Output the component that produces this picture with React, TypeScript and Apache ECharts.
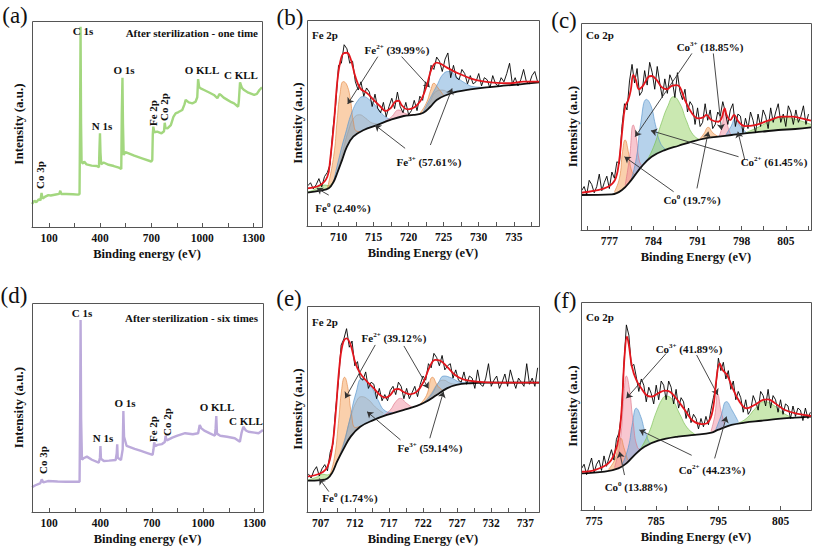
import React, { useEffect, useRef } from "react";
import * as echarts from "echarts";

const SERIF = "Liberation Serif";

// ---------------- Survey spectra (a) and (d) ----------------
const surveyOneTime: number[][] = [
  [0, 11.2], [15, 12.8], [25, 12.0], [40, 13.5], [50, 13.0], [56, 16.5], [62, 13.8], [75, 14.6], [96, 15.5],
  [110, 15.3], [140, 15.8], [160, 16.1], [166, 17.6], [172, 16.0], [200, 16.0], [240, 15.9], [270, 15.7],
  [279, 16.0], [282, 50], [285, 97.2], [288, 50], [291, 31.5], [300, 30.8], [306, 31.8], [320, 30.4],
  [350, 29.8], [380, 29.6], [393, 29.0], [396, 38], [399, 45.5], [402, 36], [406, 30.5], [420, 31.3],
  [450, 30.2], [480, 29.6], [510, 28.8], [524, 28.2], [527, 55], [531, 72.5], [534, 50], [538, 35],
  [548, 36.4], [560, 36], [600, 34.6], [650, 33.2], [700, 31.8], [706, 32.5], [709, 45], [712, 48.7],
  [718, 46], [735, 46.3], [760, 45.5], [775, 46.5], [779, 50.6], [784, 48], [795, 47.9], [815, 49.5],
  [830, 53.5], [843, 55.2], [860, 55.8], [882, 56.8], [895, 59.5], [902, 61.7], [920, 60.5], [941, 60.0],
  [960, 60.8], [970, 63], [975, 71.8], [981, 68], [990, 67.3], [1010, 66.5], [1040, 65.3], [1068, 64.1],
  [1088, 62.5], [1100, 64.5], [1108, 64.1], [1125, 62.8], [1147, 61.7], [1170, 60.6], [1186, 60],
  [1210, 58.4], [1214, 61], [1221, 70.2], [1232, 67.5], [1245, 66.5], [1270, 65.2], [1304, 64.1],
  [1320, 64.6], [1335, 66.5], [1350, 67.8],
];
const surveySixTimes: number[][] = [
  [0, 11.8], [20, 12.8], [40, 13.5], [48, 13.7], [57, 15.6], [66, 14.2], [93, 14.8], [150, 14.6], [200, 14.5],
  [278, 14.5], [281, 45], [284, 91.9], [287, 45], [292, 25], [301, 25.7], [321, 26.5], [350, 25], [390, 23.6],
  [397, 26], [400, 31.6], [403, 25.5], [420, 24.4], [450, 24.6], [489, 24.9], [495, 28], [498, 32.4],
  [501, 26], [520, 24.9], [530, 30], [534, 48.3], [538, 36], [553, 31.6], [600, 30.2], [637, 29.2],
  [670, 28.3], [705, 27.3], [710, 30], [714, 33.3], [720, 31.5], [733, 32.1], [760, 32.5], [776, 33.5],
  [781, 36.5], [786, 34.2], [791, 34.4], [820, 35.6], [850, 36.5], [895, 37.7], [940, 37.2], [971, 37.7],
  [980, 41.6], [990, 40], [1010, 38.8], [1040, 37.6], [1069, 36.5], [1073, 40], [1077, 45.9], [1081, 37.5],
  [1100, 36.5], [1140, 36], [1185, 35.3], [1215, 33.6], [1225, 38], [1235, 40.8], [1250, 39], [1265, 38.4],
  [1300, 38], [1324, 37.7], [1340, 38.6], [1350, 39.2],
];
const surveyTicks = [100, 250, 400, 550, 700, 850, 1000, 1150, 1300];
const surveyLabels = [100, 400, 700, 1000, 1300];

// ---------------- tick values for the high-resolution panels ----------------
const fe1Ticks = [707.5, 710, 712.5, 715, 717.5, 720, 722.5, 725, 727.5, 730, 732.5, 735, 737.5];
const fe1Labels = [710, 715, 720, 725, 730, 735];
const co1Ticks = [773.5, 777, 780.5, 784, 787.5, 791, 794.5, 798, 801.5, 805, 808.5];
const co1Labels = [777, 784, 791, 798, 805];
const fe6Ticks = [707, 709.5, 712, 714.5, 717, 719.5, 722, 724.5, 727, 729.5, 732, 734.5, 737];
const fe6Labels = [707, 712, 717, 722, 727, 732, 737];
const co6Ticks = [775, 780, 785, 790, 795, 800, 805];
const co6Labels = [775, 785, 795, 805];

const rawStep = 0.4;

// ---------------- (b) Fe 2p, one time ----------------
const bRawStart = 705.6;
const bRaw = [
  19.5, 21, 18, 20, 23, 19, 24, 26, 30, 47,
  59, 78, 79, 88, 86, 79, 80, 70, 66, 70,
  63, 67, 65, 58, 64, 57, 55, 60, 53, 58,
  62, 57, 65, 58, 55, 60, 54, 56, 61, 56,
  63, 61, 70, 68, 78, 76, 82, 80, 75, 81,
  84, 72, 78, 72, 71, 76, 74, 69, 73, 69,
  70, 74, 68, 72, 71, 67, 73, 69, 68, 72,
  70, 74, 79, 69, 72, 68, 71, 76, 70, 69,
  73, 75, 70,
];
const bBackground = [
  [705.5, 16.2], [707.4, 17.2], [708.6, 18.3], [709.3, 21.5], [709.8, 25.6], [710.5, 32.0], [711.2, 38.5],
  [712.1, 43.4], [713.6, 46.6], [715.5, 49.0], [717.4, 51.5], [719.3, 53.4], [720.7, 53.9], [722.1, 55.0],
  [723.1, 57.9], [724.0, 61.2], [725.4, 63.6], [726.9, 65.2], [728.8, 66.3], [731.1, 67.3], [733.5, 68.1],
  [735.9, 68.8], [738.6, 69.7],
];
const bEnvelope = [
  [705.5, 18.3], [707.4, 19.9], [708.4, 23.9], [708.8, 32], [709.3, 48.2], [709.8, 69.3], [710.2, 79],
  [710.7, 83.8], [711.2, 84.1], [711.7, 81.4], [712.4, 72.5], [713.1, 66.8], [714.1, 64.4], [715, 61.2],
  [716, 57.9], [716.7, 55.8], [717.4, 57.1], [718.1, 60.4], [718.6, 60.8], [719, 58.7], [719.8, 56.6],
  [720.5, 57.1], [721.2, 58.7], [721.9, 62], [722.6, 68.4], [723.3, 76.5], [724, 79.3], [724.7, 78.5],
  [725.4, 77], [726.4, 75.2], [727.3, 73.8], [728.8, 71.7], [730.2, 70.4], [732.1, 69.6], [734.5, 69.3],
  [736.4, 70.1], [738.6, 70.1],
];
const bFe0 = [[705.5, 16.4], [706.5, 17.6], [707.3, 19.3], [708, 19.9], [708.6, 19.6], [709.2, 21.3]];
const bFe2Main = [[708.4, 18.2], [709.3, 33.7], [709.8, 51.5], [710.2, 64], [710.7, 70.1], [711.2, 68.4], [711.7, 61.2], [712.1, 51], [712.6, 46], [713.2, 45.8]];
const bFe3Main = [[709.3, 21.5], [710, 32], [711, 45], [712, 56], [713, 62], [713.5, 62.8], [714.5, 61], [715.5, 57.5], [716.5, 53.5], [717.5, 51.6]];
const bGrayMain = [[709.8, 25.6], [710.6, 36], [711.4, 46], [712.2, 52.5], [713, 54], [713.8, 52.5], [714.8, 50], [715.8, 49.5]];
const bSat = [[716.5, 50.6], [717.5, 52.8], [718.6, 56.3], [719.6, 54.5], [720.6, 53.9]];
const bFe2Minor = [[721.6, 54.7], [722.5, 59.5], [723.2, 66.5], [723.6, 69.3], [724.2, 67], [725, 63.3]];
const bGrayMinor = [[722.2, 55.2], [723, 60], [724, 65.5], [724.8, 66], [725.8, 65], [727, 65.3]];
const bFe3Minor = [[722, 55], [723, 61.5], [724, 68], [725, 74], [725.8, 75], [726.8, 72.5], [728, 69.5], [729.5, 67.5], [731, 67.3]];
const bArrows = [
  [[715.6, 82.2], [711.3, 59.2]], [[719.0, 82.2], [723.0, 67.3]],
  [[719.5, 37.7], [715.2, 49]], [[723.1, 39.3], [726.2, 66.8]],
  [[708.6, 15], [706.9, 18.3]],
];

// ---------------- (c) Co 2p, one time ----------------
const cRawStart = 772.6;
const cRaw = [
  19, 21, 17, 24, 22, 18, 21, 27, 19, 23,
  26, 20, 28, 25, 33, 32, 50, 61, 58, 72,
  80, 71, 78, 65, 67, 77, 70, 81, 76, 68,
  79, 71, 64, 73, 66, 75, 72, 64, 76, 67,
  63, 68, 57, 62, 60, 51, 59, 50, 52, 61,
  53, 58, 49, 51, 57, 55, 62, 57, 51, 58,
  61, 50, 56, 55, 47, 54, 49, 57, 53, 47,
  56, 50, 58, 55, 49, 59, 52, 57, 61, 52,
  56, 50, 60, 57, 51, 58, 52, 55, 60, 51,
  56,
];
const cBackground = [
  [772.5, 16.9], [777.4, 17.2], [779, 19.3], [780.5, 24.2], [782.1, 30.6], [783.7, 35.4], [785.8, 38.6],
  [788, 40.7], [790.1, 42.7], [792.2, 44.3], [794.3, 45.1], [796.4, 45.9], [798.5, 46.7], [801.2, 47.5],
  [803.8, 48.3], [806.5, 48.8], [809, 49.6],
];
const cEnvelope = [
  [772.5, 18], [774.7, 19], [776.8, 20.9], [777.9, 24.2], [778.5, 32.2], [779, 46.7], [779.5, 59.6], [780, 62.8],
  [780.4, 67.6], [780.8, 74.9], [781.2, 72.5], [781.7, 68], [782.4, 70], [783.2, 74], [783.7, 74.4], [784.5, 72.5],
  [785.3, 69], [786.1, 68], [786.9, 69.6], [787.7, 70], [788.2, 69], [789, 62.8], [790.1, 56.4], [791.1, 53.9],
  [791.9, 54.4], [792.4, 55.6], [793.2, 53.1], [794.3, 52.3], [794.8, 53.9], [795.3, 58.8], [795.6, 55.6],
  [796.2, 53.1], [796.8, 55.6], [797.5, 52.3], [798.5, 50.2], [800.1, 50.7], [802.2, 52.8], [804.4, 54.8],
  [806, 54.8], [807.5, 53.9], [809, 52.8],
];
const cCo0Main = [[777.8, 18.5], [778.6, 25], [779.1, 38], [779.5, 43.5], [780, 38], [780.6, 28], [781.3, 26.5]];
const cCo3Main = [[779.5, 21.5], [780.2, 35], [780.8, 50.7], [781.3, 44], [781.8, 33], [782.4, 30.5]];
const cCo2Main = [[780.5, 24.5], [781.3, 35], [782, 52], [782.9, 63.1], [783.6, 60], [784.3, 51], [785.1, 42], [786, 38.8]];
const cSatMain = [[782.6, 31.5], [784, 40], [785.3, 52], [786.3, 60], [787.2, 64.4], [788.2, 61], [789.2, 53], [790.3, 46], [791.5, 43.5]];
const cCo0Minor = [[791.3, 43.7], [792, 46.5], [792.7, 49.6], [793.4, 47], [794.2, 45.3]];
const cCo3Minor = [[794.4, 45.2], [794.9, 50], [795.3, 58.8], [795.8, 50], [796.3, 46]];
const cCo2Minor = [[795.5, 46], [796.3, 50], [797, 53.9], [797.8, 50], [798.8, 47]];
const cSatMinor = [[798.5, 46.8], [800.5, 49.5], [802.5, 52.5], [804.5, 54.5], [806.5, 53.5], [809, 51]];
const cArrows = [
  [[790.1, 85.3], [781.1, 45.1]], [[793.5, 85.3], [794.8, 48.3]],
  [[797.5, 35.4], [783.6, 48]], [[798.5, 33.8], [797.4, 47.5]],
  [[787.2, 18.5], [779.4, 35.4]], [[790.9, 20.1], [792.7, 47.5]],
];

// ---------------- (e) Fe 2p, six times ----------------
const eRawStart = 705.2;
const eRaw = [
  18.5, 16.5, 20, 22, 17.5, 21, 23, 20, 29, 33,
  50, 63, 81, 84, 89, 80, 83, 71, 73, 65,
  64, 68, 60, 63, 62, 55, 60, 54, 57, 54,
  59, 61, 57, 63, 61, 55, 60, 55, 58, 61,
  56, 62, 66, 64, 72, 70, 77, 75, 71, 76,
  69, 71, 72, 65, 69, 64, 63, 68, 62, 66,
  65, 60, 69, 62, 61, 65, 72, 61, 64, 66,
  60, 63, 67, 61, 69, 64, 60, 65, 63, 61,
  72, 62, 65, 61, 70,
];
const eBackground = [
  [705, 15.2], [707, 15.5], [708, 16.3], [708.7, 19.1], [709.4, 24.4], [710.4, 30.9], [711.4, 36.6],
  [712.8, 41.4], [714.8, 44.7], [716.7, 47.1], [719.1, 49.5], [721.1, 51.5], [722.5, 53.6], [724, 56.8],
  [725.5, 60], [726.9, 61.7], [728.9, 62.5], [731.3, 62.8], [739, 62.8],
];
const eEnvelope = [
  [705, 17.2], [707, 18.8], [708, 22], [708.7, 31.7], [709.2, 47.9], [709.7, 68.9], [710.2, 81.1], [710.8, 84.3],
  [711.4, 81.1], [712.1, 72.2], [712.8, 67.3], [713.8, 63.3], [714.8, 60], [715.7, 56.8], [716.5, 55.5],
  [717.2, 56.8], [717.9, 59.5], [718.4, 59.7], [719.1, 58.4], [720.1, 57.1], [721.1, 58.4], [722.1, 63.3],
  [723, 70.6], [723.8, 73.8], [724.5, 73.5], [725.5, 70.6], [726.7, 66.5], [727.9, 64.4], [729.8, 63.3],
  [732.8, 62.8], [739, 62.8],
];
const eFe0 = [[705, 15.4], [706.5, 17], [707.3, 18.3], [708, 18], [708.6, 19.2]];
const eFe2Main = [[708.3, 17.5], [709, 26], [709.6, 43], [710.1, 60], [710.5, 65.4], [711, 60], [711.5, 48], [712.1, 41], [712.8, 41.6]];
const eFe3Main = [[709.2, 22.5], [710.2, 31], [711.2, 44], [712.2, 58], [713.1, 64.9], [714.2, 62], [715.3, 55], [716.5, 49], [717.5, 48.2]];
const eGrayMain = [[709.4, 24.4], [710.4, 34], [711.4, 46], [712.3, 54], [713, 56], [714, 54.5], [715, 51], [716.2, 48]];
const eSat = [[716.2, 46.8], [717.2, 49.5], [718, 53.5], [718.7, 55.2], [719.5, 53], [720.5, 50.6]];
const eFe2Minor = [[721.5, 52.2], [722.5, 56.5], [723.4, 65.4], [724.2, 61], [725, 58.8]];
const eGrayMinor = [[722.2, 53.2], [723.2, 57.5], [724.3, 63], [725, 64], [726, 62.5], [727, 61.9]];
const eFe3Minor = [[721.5, 51.8], [723, 56], [724.2, 62.5], [725.1, 66], [726.2, 65], [727.5, 63], [729, 62.6]];
const eArrows = [
  [[715.0, 81.1], [710.6, 55.2]], [[719.2, 80.6], [722.8, 60]],
  [[718.7, 35], [713.8, 48.7]], [[723.0, 35.8], [725.0, 58.4]],
  [[708.2, 9.9], [706.8, 16.3]],
];

// ---------------- (f) Co 2p, six times ----------------
const fRawStart = 773.0;
const fRaw = [
  20, 22, 17, 21, 25, 18, 22, 24, 19, 26,
  21, 25, 29, 24, 34, 37, 46, 70, 89, 84,
  69, 70, 64, 57, 63, 60, 52, 59, 56, 51,
  60, 53, 62, 60, 53, 62, 59, 51, 58, 49,
  54, 52, 44, 49, 42, 46, 44, 39, 44, 40,
  45, 41, 48, 54, 59, 73, 67, 71, 63, 67,
  58, 62, 53, 57, 54, 47, 53, 46, 48, 55,
  52, 48, 57, 55, 50, 58, 49, 55, 53, 47,
  53, 46, 51, 50, 44, 50, 45, 49, 48, 43,
  49, 44, 47,
];
const fBackground = [
  [772.9, 17.6], [776.7, 18.4], [778.9, 20], [780.2, 22.4], [781.5, 26.4], [783.1, 30.4], [785.3, 33.3],
  [788.5, 35.3], [791.2, 36.1], [793.9, 37.2], [794.9, 38.5], [797.1, 40.9], [799.2, 42], [801.9, 42.9],
  [804.6, 43.8], [807.3, 44.4], [809.9, 44.9],
];
const fEnvelope = [
  [772.9, 18.4], [775.1, 19.2], [777.3, 22.4], [778.3, 27.2], [779, 35.3], [779.5, 51.3], [779.9, 73.7],
  [780.3, 83.3], [780.6, 79.3], [781.1, 68.9], [781.8, 62.5], [782.6, 58.5], [783.4, 55.3], [784.2, 54.5],
  [785.3, 56.1], [786.4, 57.4], [787.2, 56.9], [788.2, 53.7], [789.6, 48.1], [790.9, 42.9], [792.3, 41.3],
  [793.3, 42], [794.1, 48.1], [794.7, 63.3], [795.2, 70.5], [795.7, 67.3], [796.4, 64.9], [797.3, 58.5],
  [798.4, 52.1], [799.5, 48.9], [800.8, 50.5], [802.2, 52.9], [803, 53.2], [804, 51.6], [805.7, 48.1],
  [807.8, 46.2], [809.9, 45.2],
];
const fCo0 = [[777.3, 19.5], [778.3, 24], [778.9, 31], [779.3, 34.5], [779.8, 30], [780.4, 24]];
const fCo3Main = [[778.3, 20.5], [779.2, 33], [779.8, 55], [780.2, 64.4], [780.7, 58], [781.3, 42], [782, 30], [782.7, 29]];
const fCo2Main = [[779.5, 21.5], [780.5, 30], [781.2, 42], [781.8, 48.9], [782.5, 45], [783.3, 37], [784.3, 32], [785, 33.2]];
const fSatMain = [[782.5, 29.5], [783.8, 37], [785, 47], [786, 53.5], [786.6, 54.8], [787.6, 53], [788.8, 46], [790, 39.5], [791.2, 36.5]];
const fCo3Minor = [[793.8, 37.8], [794.4, 45], [794.9, 55.8], [795.4, 48], [796, 41]];
const fCo2Minor = [[794.5, 38], [795.4, 45], [796.3, 52.1], [797.2, 48], [798.2, 42.5]];
const fSatMinor = [[798, 41.5], [799.5, 44], [801, 49], [802.4, 52.1], [803.8, 50.5], [805.5, 46.5], [807, 44.3]];
const fArrows = [
  [[786.6, 75.3], [780.2, 53.7]], [[791.5, 74.5], [794.9, 55.3]],
  [[790.7, 26.3], [782.3, 38.5]], [[794.4, 24.8], [796.3, 44.9]],
  [[779.9, 16.8], [779.1, 28]],
];

// ---------------- styling / layout ----------------
const PAL: Record<string, { fill: string; line: string }> = {
  orange: { fill: "rgba(243,150,72,0.45)", line: "rgba(225,130,60,0.75)" },
  blue: { fill: "rgba(110,165,215,0.5)", line: "rgba(90,150,205,0.85)" },
  pink: { fill: "rgba(240,130,150,0.45)", line: "rgba(220,110,130,0.75)" },
  green: { fill: "rgba(150,210,100,0.5)", line: "rgba(120,190,80,0.8)" },
  gray: { fill: "rgba(170,170,170,0.3)", line: "rgba(150,150,150,0.6)" },
};

const GRIDS = [
  { left: 32, top: 21, width: 230, height: 206 },
  { left: 307, top: 20, width: 232, height: 206 },
  { left: 581, top: 23, width: 230, height: 207 },
  { left: 32, top: 303, width: 231, height: 209 },
  { left: 307, top: 306, width: 232, height: 206 },
  { left: 581, top: 302, width: 230, height: 208 },
];

function rawPoints(start: number, values: number[]) {
  return values.map((v, i) => [Math.round((start + i * rawStep) * 100) / 100, v]);
}

function xAxisOpt(gi: number, min: number, max: number, ticks: number[], labels: number[], name: string) {
  return {
    gridIndex: gi, type: "value", min, max, z: 10,
    axisLine: { show: true, onZero: false, lineStyle: { color: "#555", width: 1 } },
    axisTick: { show: true, inside: true, length: 4, customValues: ticks, lineStyle: { color: "#555" } },
    axisLabel: {
      show: true, customValues: labels, margin: 5, color: "#111", fontSize: 11.5, fontWeight: "bold", fontFamily: SERIF,
      formatter: (v: number) => String(v),
    },
    splitLine: { show: false },
    name, nameLocation: "middle", nameGap: 20,
    nameTextStyle: { color: "#111", fontSize: 12.5, fontWeight: "bold", fontFamily: SERIF },
  };
}

function yAxisOpt(gi: number, gap: number) {
  return {
    gridIndex: gi, type: "value", min: 0, max: 100,
    axisLine: { show: false }, axisTick: { show: false }, axisLabel: { show: false }, splitLine: { show: false },
    name: "Intensity (a.u.)", nameLocation: "middle", nameGap: gap,
    nameTextStyle: { color: "#111", fontSize: 13, fontWeight: "bold", fontFamily: SERIF },
  };
}

function hiRes(gi: number, comps: [number[][], string][], bg: number[][], raw: number[][], env: number[][], arrows: number[][][]) {
  const out: any[] = [];
  comps.forEach(([data, kind]) => {
    out.push({
      type: "line", xAxisIndex: gi, yAxisIndex: gi, data, smooth: 0.5, symbol: "none", silent: true, z: 2,
      lineStyle: { color: PAL[kind].line, width: 0.8 },
      areaStyle: { color: PAL[kind].fill, opacity: 1 },
    });
  });
  out.push({
    type: "line", xAxisIndex: gi, yAxisIndex: gi, data: bg, smooth: 0.4, symbol: "none", silent: true, z: 3,
    lineStyle: { color: "#111", width: 1.8 },
    areaStyle: { color: "#ffffff", opacity: 1 },
  });
  out.push({
    type: "line", xAxisIndex: gi, yAxisIndex: gi, data: raw, symbol: "none", silent: true, z: 4,
    lineStyle: { color: "#000", width: 0.9 },
  });
  out.push({
    type: "line", xAxisIndex: gi, yAxisIndex: gi, data: env, smooth: 0.4, symbol: "none", silent: true, z: 5,
    lineStyle: { color: "#e3161d", width: 1.8 },
    markLine: {
      silent: true, symbol: ["none", "arrow"], symbolSize: 6, label: { show: false },
      lineStyle: { color: "#333", width: 0.9, type: "solid" },
      data: arrows.map((a) => [{ coord: a[0] }, { coord: a[1] }]),
    },
  });
  return out;
}

const RICH = {
  b: { fontSize: 11, fontWeight: "bold", fontFamily: SERIF, fill: "#111", color: "#111" },
  s: { fontSize: 7, fontWeight: "bold", fontFamily: SERIF, fill: "#111", color: "#111", padding: [0, 0, 7, 0] },
};

function supText(x: number, y: number, base: string, sup: string, rest: string) {
  return {
    type: "text", x, y, z: 100, silent: true,
    style: {
      text: `{b|${base}}{s|${sup}}{b|${rest}}`, rich: RICH, align: "center", verticalAlign: "middle",
      fontFamily: SERIF, fontWeight: "bold", fontSize: 11, fill: "#111",
    },
  };
}
function plainText(x: number, y: number, text: string, opts: any = {}) {
  return {
    type: "text", x, y, z: 100, silent: true, rotation: opts.rotation || 0,
    style: {
      text, fill: "#111", fontFamily: SERIF, fontWeight: opts.weight || "bold", fontSize: opts.size || 11,
      align: opts.align || "center", verticalAlign: "middle",
    },
  };
}

function buildOption() {
  const V = Math.PI / 2;
  const graphic: any[] = [];
  GRIDS.forEach((g) => {
    graphic.push({
      type: "rect", z: 100, silent: true,
      shape: { x: g.left + 0.5, y: g.top + 0.5, width: g.width, height: g.height },
      style: { fill: "transparent", stroke: "#555", lineWidth: 1 },
    });
  });
  const letters: [number, number, string][] = [[15, 15, "(a)"], [290, 17, "(b)"], [564, 20, "(c)"], [14, 295, "(d)"], [289, 298, "(e)"], [565, 300, "(f)"]];
  letters.forEach(([x, y, t]) => graphic.push(plainText(x, y, t, { size: 23, weight: "normal" })));

  // (a)
  graphic.push(plainText(258, 33, "After sterilization - one time", { align: "right" }));
  graphic.push(plainText(83, 31, "C 1s"));
  graphic.push(plainText(124, 70, "O 1s"));
  graphic.push(plainText(102, 126, "N 1s"));
  graphic.push(plainText(153, 113, "Fe 2p", { rotation: V }));
  graphic.push(plainText(164, 107, "Co 2p", { rotation: V }));
  graphic.push(plainText(202, 70, "O KLL"));
  graphic.push(plainText(241, 75, "C KLL"));
  graphic.push(plainText(40, 175, "Co 3p", { rotation: V }));
  // (d)
  graphic.push(plainText(258, 318, "After sterilization - six times", { align: "right" }));
  graphic.push(plainText(82, 313, "C 1s"));
  graphic.push(plainText(103, 438, "N 1s"));
  graphic.push(plainText(125, 403, "O 1s"));
  graphic.push(plainText(153, 429, "Fe 2p", { rotation: V }));
  graphic.push(plainText(167, 422, "Co 2p", { rotation: V }));
  graphic.push(plainText(217, 407, "O KLL"));
  graphic.push(plainText(246, 421, "C KLL"));
  graphic.push(plainText(43, 460, "Co 3p", { rotation: V }));
  // (b)
  graphic.push(plainText(312, 35, "Fe 2p", { align: "left" }));
  graphic.push(supText(397, 50, "Fe", "2+", " (39.99%)"));
  graphic.push(supText(429, 162, "Fe", "3+", " (57.61%)"));
  graphic.push(supText(343, 208, "Fe", "0", " (2.40%)"));
  // (c)
  graphic.push(plainText(586, 35, "Co 2p", { align: "left" }));
  graphic.push(supText(710, 47, "Co", "3+", " (18.85%)"));
  graphic.push(supText(774, 162, "Co", "2+", " (61.45%)"));
  graphic.push(supText(692, 200, "Co", "0", " (19.7%)"));
  // (e)
  graphic.push(plainText(312, 322, "Fe 2p", { align: "left" }));
  graphic.push(supText(394, 338, "Fe", "2+", " (39.12%)"));
  graphic.push(supText(430, 448, "Fe", "3+", " (59.14%)"));
  graphic.push(supText(350, 498, "Fe", "0", " (1.74%)"));
  // (f)
  graphic.push(plainText(586, 317, "Co 2p", { align: "left" }));
  graphic.push(supText(689, 349, "Co", "3+", " (41.89%)"));
  graphic.push(supText(712, 470, "Co", "2+", " (44.23%)"));
  graphic.push(supText(636, 487, "Co", "0", " (13.88%)"));

  const series: any[] = [
    {
      type: "line", xAxisIndex: 0, yAxisIndex: 0, data: surveyOneTime, symbol: "none", silent: true,
      lineStyle: { color: "#a3d77f", width: 2.4 },
    },
    {
      type: "line", xAxisIndex: 3, yAxisIndex: 3, data: surveySixTimes, symbol: "none", silent: true,
      lineStyle: { color: "#bcaadb", width: 2.4 },
    },
    ...hiRes(1, [
      [bFe0, "green"], [bFe2Main, "orange"], [bFe3Main, "blue"], [bGrayMain, "gray"], [bSat, "pink"],
      [bFe2Minor, "orange"], [bFe3Minor, "blue"], [bGrayMinor, "gray"],
    ], bBackground, rawPoints(bRawStart, bRaw), bEnvelope, bArrows),
    ...hiRes(2, [
      [cCo0Main, "orange"], [cCo3Main, "pink"], [cCo2Main, "blue"], [cSatMain, "green"],
      [cCo0Minor, "orange"], [cCo3Minor, "pink"], [cCo2Minor, "blue"], [cSatMinor, "green"],
    ], cBackground, rawPoints(cRawStart, cRaw), cEnvelope, cArrows),
    ...hiRes(4, [
      [eFe0, "green"], [eFe2Main, "orange"], [eFe3Main, "blue"], [eGrayMain, "gray"], [eSat, "pink"],
      [eFe2Minor, "orange"], [eFe3Minor, "blue"], [eGrayMinor, "gray"],
    ], eBackground, rawPoints(eRawStart, eRaw), eEnvelope, eArrows),
    ...hiRes(5, [
      [fCo0, "orange"], [fCo3Main, "pink"], [fCo2Main, "blue"], [fSatMain, "green"],
      [fCo3Minor, "pink"], [fCo2Minor, "blue"], [fSatMinor, "green"],
    ], fBackground, rawPoints(fRawStart, fRaw), fEnvelope, fArrows),
  ];

  return {
    animation: false,
    backgroundColor: "#ffffff",
    textStyle: { fontFamily: SERIF },
    grid: GRIDS.map((g) => ({ ...g, show: false })),
    xAxis: [
      xAxisOpt(0, 0, 1350, surveyTicks, surveyLabels, "Binding energy (eV)"),
      xAxisOpt(1, 705.5, 738.6, fe1Ticks, fe1Labels, "Binding Energy (eV)"),
      xAxisOpt(2, 772.5, 809, co1Ticks, co1Labels, "Binding Energy (eV)"),
      xAxisOpt(3, 0, 1350, surveyTicks, surveyLabels, "Binding energy (eV)"),
      xAxisOpt(4, 705, 739, fe6Ticks, fe6Labels, "Binding Energy (eV)"),
      xAxisOpt(5, 772.9, 809.9, co6Ticks, co6Labels, "Binding Energy (eV)"),
    ],
    yAxis: [yAxisOpt(0, 7), yAxisOpt(1, 3), yAxisOpt(2, 2), yAxisOpt(3, 7), yAxisOpt(4, 3), yAxisOpt(5, 2)],
    graphic,
    series,
  };
}

export default function App() {
  const ref = useRef<HTMLDivElement>(null);
  useEffect(() => {
    if (!ref.current) return;
    const chart = echarts.init(ref.current, null, { renderer: "svg" });
    chart.setOption(buildOption() as any);
    return () => chart.dispose();
  }, []);
  return (
    <div
      ref={ref}
      style={{ position: "absolute", left: 0, top: 0, width: 817, height: 548, background: "#fff" }}
    />
  );
}
